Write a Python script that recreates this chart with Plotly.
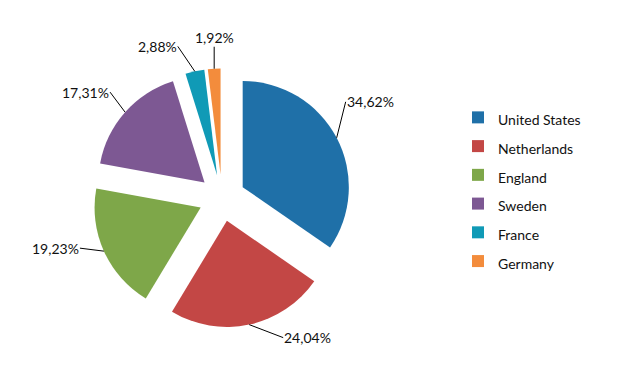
import math
import plotly.graph_objects as go

categories = ["United States", "Netherlands", "England", "Sweden", "France", "Germany"]
values = [36, 25, 20, 18, 3, 2]
colors = ["#1F70A8", "#C34745", "#7EA749", "#7D5893", "#109AB6", "#F38C3C"]

# label offsets (px) from slice's outer mid-arc to label anchor, and anchor side
label_dx = [9, 34, -24, -15, -17, 0]
label_dy = [-36, 13, -3, -20, -25, -22]
label_xanchor = ["left", "left", "right", "right", "right", "center"]
label_yanchor = ["middle", "middle", "middle", "middle", "middle", "bottom"]

W, H = 644, 388
OFF = 8  # page body margin in the browser
PULL = 0.22
dom_x = [(92.5 - OFF) / W, (351.5 - OFF) / W]
dom_y = [1 - (327.5 - OFF) / H, 1 - (68.5 - OFF) / H]
FONT = "Lato, 'Liberation Sans', sans-serif"
TXT = "#111111"

legend_labels = [f'<span style="font-size:14px">{c}</span>' for c in categories]

fig = go.Figure(go.Pie(
    labels=legend_labels,
    values=values,
    sort=False,
    direction="clockwise",
    rotation=0,
    pull=[PULL] * len(values),
    marker=dict(colors=colors, line=dict(width=0)),
    textinfo="none",
    hoverinfo="label+percent",
    domain=dict(x=dom_x, y=dom_y),
    showlegend=True,
))

# geometry of the pie as plotly lays it out
wpx = (dom_x[1] - dom_x[0]) * W
hpx = (dom_y[1] - dom_y[0]) * H
r = min(wpx, hpx) / (2 + 2 * PULL)
cx = (dom_x[0] + dom_x[1]) / 2 * W
cy = H * (1 - (dom_y[0] + dom_y[1]) / 2)

total = sum(values)
cum = 0
annotations = []
for i, v in enumerate(values):
    mid = (cum + v / 2) / total * 2 * math.pi
    cum += v
    dx, dy = math.sin(mid), -math.cos(mid)
    px = cx + r * (1 + PULL) * dx
    py = cy + r * (1 + PULL) * dy
    pct = v / total * 100
    txt = f"{pct:.2f}%".replace(".", ",")
    annotations.append(dict(
        x=px / W, y=1 - py / H, xref="paper", yref="paper",
        text=txt, showarrow=True, arrowhead=0, arrowwidth=1, arrowcolor="#000000",
        ax=label_dx[i], ay=label_dy[i],
        xanchor=label_xanchor[i], yanchor=label_yanchor[i],
        font=dict(family=FONT, size=14, color=TXT),
        borderpad=0,
    ))

fig.update_layout(
    width=W, height=H, autosize=False,
    margin=dict(l=0, r=0, t=0, b=0),
    paper_bgcolor="white", plot_bgcolor="white",
    font=dict(family=FONT, color=TXT),
    annotations=annotations,
    legend=dict(
        x=(458 - OFF) / W, y=1 - (98 - OFF) / H, xanchor="left", yanchor="top",
        font=dict(family=FONT, size=19.8, color=TXT),
        itemwidth=30, traceorder="normal",
    ),
)

fig.write_html("out.html")
